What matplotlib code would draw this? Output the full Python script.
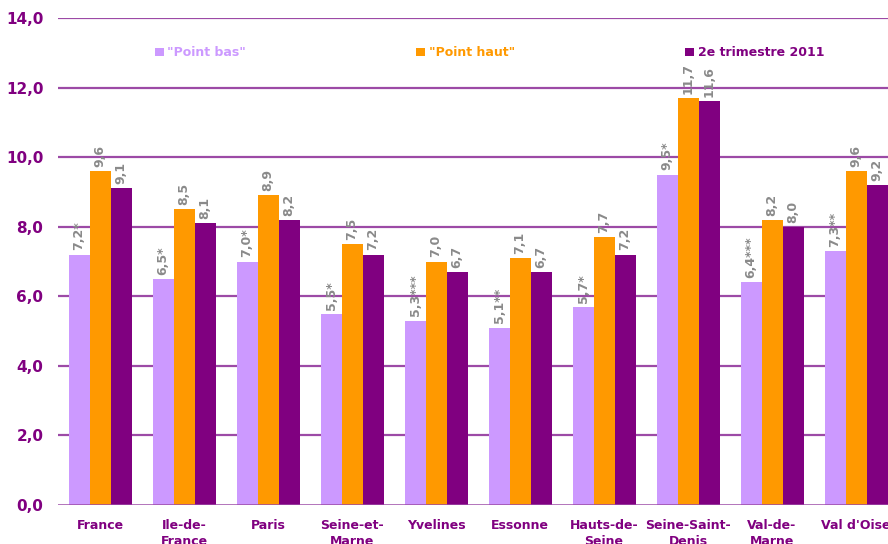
import numpy as np
import matplotlib
matplotlib.use("Agg")
from matplotlib import pyplot as plt

categories = ["France", "Ile-de-\nFrance", "Paris", "Seine-et-\nMarne", "Yvelines",
              "Essonne", "Hauts-de-\nSeine", "Seine-Saint-\nDenis", "Val-de-\nMarne", "Val d'Oise"]
point_bas = [7.2, 6.5, 7.0, 5.5, 5.3, 5.1, 5.7, 9.5, 6.4, 7.3]
point_bas_lbl = ["7,2*", "6,5*", "7,0*", "5,5*", "5,3***", "5,1**", "5,7*", "9,5*", "6,4***", "7,3**"]
point_haut = [9.6, 8.5, 8.9, 7.5, 7.0, 7.1, 7.7, 11.7, 8.2, 9.6]
trim_2011 = [9.1, 8.1, 8.2, 7.2, 6.7, 6.7, 7.2, 11.6, 8.0, 9.2]
series_names = ['"Point bas"', '"Point haut"', '2e trimestre 2011']
colors = ["#CC99FF", "#FF9900", "#800080"]

fig = plt.figure(figsize=(8.88, 5.44), dpi=100)
ax = fig.add_axes([58 / 888, 39 / 544, 840 / 888, 487 / 544])

x = np.arange(len(categories))
w = 0.25
series = [point_bas, point_haut, trim_2011]
labels = [point_bas_lbl,
          [f"{v:.1f}".replace(".", ",") for v in point_haut],
          [f"{v:.1f}".replace(".", ",") for v in trim_2011]]

for yv in np.arange(2, 14.1, 2):
    ax.axhline(yv, color="#9C4AA6", lw=1.6, zorder=0)
ax.axhline(0, color="#9C4AA6", lw=1.8, zorder=3)

handles = []
for i, (vals, lbls) in enumerate(zip(series, labels)):
    b = ax.bar(x + (i - 1) * w, vals, w, color=colors[i], zorder=2, label=series_names[i])
    handles.append(b)
    for xi, v, t in zip(x + (i - 1) * w, vals, lbls):
        ax.annotate(t, (xi, v), xytext=(0, 3), textcoords="offset points",
                    rotation=90, ha="center", va="bottom", color="#8A8A8A",
                    fontsize=9, fontweight="semibold")

ax.set_xlim(-0.5, len(categories) - 0.5)
ax.set_ylim(0, 14)
ax.set_yticks(np.arange(0, 14.1, 2))
ax.set_yticklabels([f"{v:.1f}".replace(".", ",") for v in np.arange(0, 14.1, 2)])
ax.set_xticks(x)
ax.set_xticklabels(categories, va="top", linespacing=1.3)
ax.tick_params(axis="y", length=0, pad=10.5, labelsize=11, labelcolor="#800080")
ax.tick_params(axis="x", length=0, pad=10, labelsize=9, labelcolor="#800080")
for t in ax.get_yticklabels() + ax.get_xticklabels():
    t.set_fontweight("bold")
for s in ax.spines.values():
    s.set_visible(False)

leg = ax.legend(handles=handles, loc="upper left", bbox_to_anchor=(0.102, 0.965), ncol=3,
                frameon=False, fontsize=9, handlelength=0.7, handleheight=0.7,
                handletextpad=0.3, columnspacing=13.6)
for t, c in zip(leg.get_texts(), colors):
    t.set_color(c)
    t.set_fontweight("bold")

fig.savefig("out.png", dpi=100)
